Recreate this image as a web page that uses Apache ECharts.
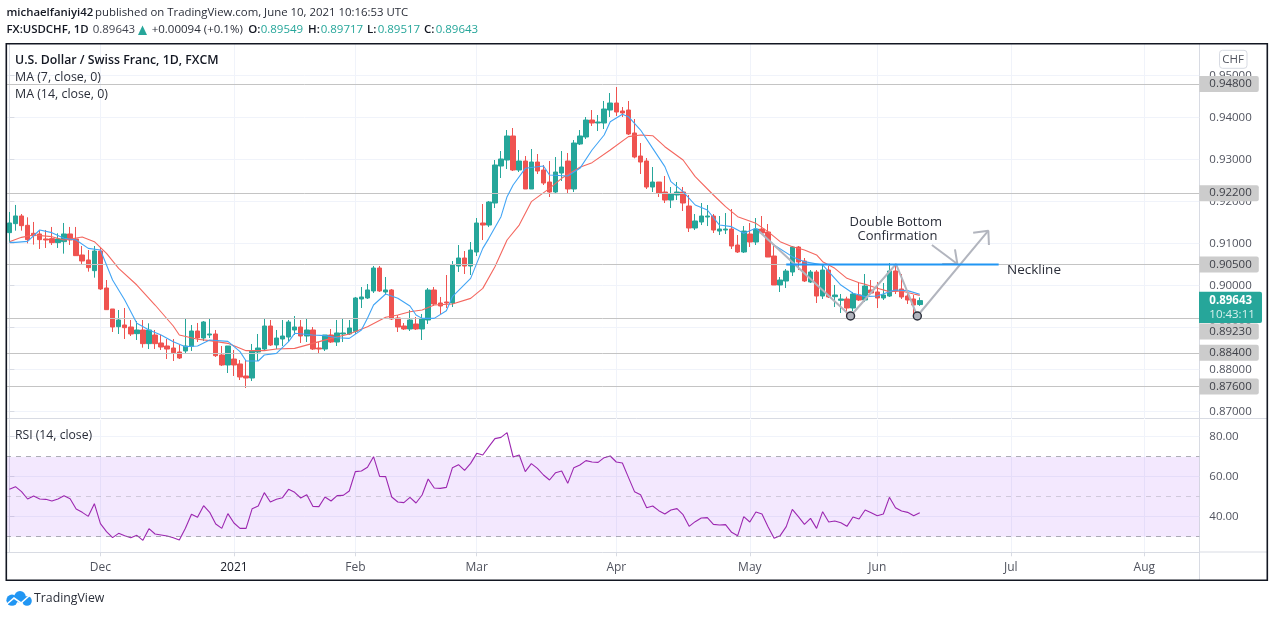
<!DOCTYPE html>
<html><head><meta charset="utf-8">
<style>html,body{margin:0;padding:0;background:#fff}#c{width:1274px;height:617px}</style>
<script src="https://cdn.jsdelivr.net/npm/echarts@6/dist/echarts.min.js"></script>
</head><body><div id="c"></div>
<script>
const opens=[.91261,.91475,.91658,.91435,.91245,.91229,.91110,.91118,.91023,.91046,.91229,.91110,.90729,.90610,.90356,.90824,.89943,.89443,.89022,.89062,.89014,.88856,.88943,.88618,.88824,.88634,.88562,.88514,.88419,.88443,.88554,.88919,.88752,.88824,.88848,.88348,.88110,.88252,.88134,.87848,.87800,.88419,.88490,.89038,.88586,.88729,.88776,.88943,.89014,.88800,.88943,.88514,.88490,.88824,.88657,.88848,.88848,.88911,.89681,.89705,.89872,.90419,.89848,.89896,.89229,
.89038,.88967,.89086,.88967,.89181,.89895,.89586,.89610,.89586,.90466,.90657,.90466,.90800,.91490,.91442,.91966,.92847,.92990,.93562,.92752,.92966,.92300,.92942,.92752,.92466,.92228,.92680,.92966,.92300,.93371,.93538,.93942,.93871,.93871,.94180,.94347,.94157,.94180,.93633,.93085,.92966,.92347,.92466,.92228,.92037,.92157,.92228,.91895,.91371,.91514,.91633,.91657,.91299,.91323,.91347,.90966,.90800,.91228,.91038,.91347,.91276,.90704,.90014,.90109,.90324,.90918,
.90586,.90086,.90324,.89752,.90371,.89736,.89649,.89681,.89466,.89776,.89657,.89895,.89848,.89705,.89752,.90348,.89919,.89752,.89681,.89549];
const closes=[.91491,.91658,.91427,.91094,.91189,.91094,.91086,.91023,.91110,.91229,.91086,.90713,.90586,.90427,.90824,.89920,.89427,.89014,.89181,.88998,.88848,.88943,.88618,.88943,.88618,.88538,.88490,.88403,.88276,.88562,.88919,.88752,.89134,.88848,.88332,.88110,.88562,.88110,.87824,.87800,.88443,.88514,.89038,.88586,.88752,.88800,.89134,.89014,.88800,.88943,.88490,.88490,.88824,.88657,.88872,.88872,.88991,.89705,.89729,.89896,.90419,.89872,.89896,.89205,.89014,
.88967,.89181,.88967,.89205,.89895,.89562,.89514,.89586,.90490,.90657,.90466,.90847,.91490,.91442,.91990,.92871,.93014,.93562,.92752,.92966,.92300,.92942,.92728,.92442,.92228,.92704,.92823,.92300,.93395,.93562,.93942,.93871,.93895,.94204,.94347,.94133,.94109,.93609,.93061,.92942,.92347,.92466,.92204,.92037,.92180,.92228,.91966,.91371,.91538,.91657,.91657,.91323,.91347,.91347,.90942,.90800,.91299,.91038,.91347,.91252,.90680,.90014,.90133,.90347,.90918,.90561,
.90110,.90324,.89752,.90371,.89729,.89776,.89681,.89466,.89800,.89657,.89990,.89824,.89705,.89776,.90348,.89871,.89729,.89657,.89538,.89643];
const lows=[.91030,.91308,.91308,.91007,.90975,.90872,.90896,.90967,.90896,.90761,.90967,.90705,.90515,.90332,.90189,.89896,.89419,.88895,.88848,.88729,.88800,.88705,.88522,.88490,.88490,.88467,.88252,.88205,.88252,.88395,.88443,.88657,.88681,.88752,.88300,.88086,.87919,.87848,.87752,.87562,.87728,.88205,.88443,.88562,.88490,.88562,.88657,.88824,.88634,.88657,.88467,.88371,.88443,.88634,.88562,.88657,.88824,.88848,.89467,.89681,.89824,.89848,.89776,.89181,.88895,
.88943,.88919,.88943,.88705,.89086,.89514,.89324,.89467,.89490,.90324,.90276,.90252,.90704,.91085,.91394,.91847,.92562,.92776,.92728,.92704,.92300,.92300,.92657,.92395,.92109,.92180,.92490,.92204,.92228,.93347,.93490,.93800,.93680,.93728,.94014,.94038,.94014,.93585,.93030,.92657,.92300,.92228,.92109,.91966,.91847,.92037,.91776,.91276,.91323,.91442,.91418,.91252,.91204,.91228,.90871,.90776,.90776,.90919,.90966,.91244,.90680,.90014,.89847,.89943,.90228,.90371,
.90086,.90062,.89586,.89681,.89705,.89490,.89348,.89276,.89395,.89633,.89609,.89800,.89466,.89657,.89729,.89800,.89681,.89562,.89276,.89517];
const highs=[.91753,.91920,.91705,.91626,.91515,.91324,.91324,.91396,.91245,.91491,.91396,.91396,.90943,.90848,.90943,.90919,.90133,.89443,.89419,.89467,.89181,.89157,.89181,.89102,.88943,.88824,.88729,.88729,.88586,.89205,.89062,.89110,.89157,.89205,.88943,.88562,.88562,.88467,.88229,.88229,.88610,.88848,.89205,.89181,.88943,.89181,.89181,.89276,.89181,.89205,.89014,.88657,.88824,.88967,.89181,.89205,.89181,.89729,.89967,.90038,.90467,.90467,.90205,.89919,.89300,
.89109,.89419,.89252,.89324,.89943,.89967,.89729,.90252,.90585,.90966,.90823,.91038,.91609,.91942,.92014,.92990,.93204,.93704,.93752,.93228,.93085,.93252,.93133,.92871,.92966,.93061,.93204,.93157,.93466,.93704,.94014,.94180,.94061,.94395,.94585,.94728,.94252,.94395,.93966,.93395,.93038,.92823,.92466,.92609,.92347,.92466,.92347,.92157,.91704,.91966,.91919,.91704,.91657,.91728,.91823,.91204,.91418,.91490,.91609,.91657,.91466,.90942,.90204,.90395,.90942,.90942,
.90657,.90371,.90371,.90514,.90466,.90014,.89800,.89736,.89848,.90086,.90276,.90133,.90086,.90062,.90538,.90514,.90276,.89871,.89776,.89717];

const ma7Bars=[0,1,3,5,7,9,11,13,15,17,19,21,23,25,27,29,31,33,36,38,39,41,42,44,46,47,50,52,54,56,58,59,60,62,64,66,67,68,70,72,73,76,78,79,81,82,83,85,88,89,92,94,96,98,99,101,102,104,106,108,109,111,113,115,117,119,121,123,124,126,129,131,134,136,137,139,141,143,145,146,148,150];
const ma7Values=[.91030,.91030,.91054,.91324,.91261,.91126,.91086,.90887,.90848,.90133,.89657,.89102,.88943,.88824,.88665,.88546,.88562,.88705,.88673,.88427,.88205,.88205,.88348,.88387,.88665,.88864,.88824,.88808,.88760,.88744,.88943,.89221,.89538,.89800,.89700,.89514,.89299,.89220,.89220,.89403,.89736,.90173,.90887,.91125,.91641,.92117,.92395,.92792,.92847,.92633,.92609,.92792,.93228,.93585,.93903,.94078,.94022,.93704,.93268,.92832,.92474,.92236,.91919,.91800,.91442,.91403,.91244,.91363,.91244,.90966,.90689,.90570,.90491,.90173,.90014,.89816,.89737,.89752,.89856,.89895,.89880,.89792];
const ma14Bars=[0,2,4,7,9,12,14,16,18,21,24,27,28,31,33,36,39,42,44,47,50,53,56,59,62,64,66,68,70,73,76,78,80,82,84,86,89,91,94,96,99,102,104,106,108,111,113,116,118,120,123,125,127,129,130,131,133,134,136,138,140,141,143,145,147,149,150];
const ma14Values=[.91046,.91149,.91204,.91165,.91086,.91157,.91046,.90768,.90411,.90014,.89538,.89038,.88824,.88721,.88689,.88625,.88451,.88451,.88490,.88506,.88625,.88744,.88848,.89022,.89245,.89300,.89379,.89419,.89537,.89562,.89696,.89934,.90450,.91085,.91442,.91998,.92316,.92554,.92816,.92927,.93228,.93546,.93585,.93569,.93307,.92990,.92593,.92157,.91879,.91641,.91482,.91284,.91046,.90927,.90887,.90848,.90729,.90570,.90411,.90173,.90070,.90030,.89935,.89856,.89871,.89800,.89768];
const rsiValues=[53.68,55.02,52.52,48.85,50.35,48.85,48.68,47.85,48.85,50.52,49.02,43.85,42.18,40.18,46.52,36.52,32.52,29.52,31.68,30.52,29.52,30.68,28.18,34.02,31.35,30.85,30.35,29.52,28.35,34.18,41.18,39.68,45.52,42.18,36.35,34.18,41.52,36.85,34.18,34.18,44.02,45.35,52.02,47.35,48.68,49.52,53.68,52.18,49.35,51.02,45.18,45.02,49.85,47.85,50.52,50.68,52.85,62.52,62.85,64.68,70.02,60.18,60.02,49.85,47.35,47.02,49.68,46.85,
50.85,58.85,54.35,54.18,54.68,64.52,66.02,63.18,66.68,71.68,70.85,75.02,79.02,79.68,82.02,69.85,70.85,62.52,66.52,64.18,60.85,58.35,62.02,62.85,56.68,64.52,65.85,68.02,67.35,67.18,69.52,70.35,67.35,66.85,59.68,52.52,51.02,44.52,45.35,43.02,41.35,43.35,44.02,41.02,35.18,37.52,39.35,39.52,36.18,35.85,36.02,32.18,30.52,40.02,37.35,42.35,41.35,35.02,29.18,30.52,35.02,43.68,40.02,36.18,39.18,34.18,42.52,37.35,37.85,37.02,35.18,39.85,38.85,43.35,42.02,40.52,41.35,49.68,44.52,42.85,42.18,40.52,42.02];

const monthBars=[15,37,57,77,100,122,143,165,187];
const monthLabels=['Dec','2021','Feb','Mar','Apr','May','Jun','Jul','Aug'];
const priceTicks=[.87,.88,.89,.90,.91,.92,.93,.94,.95];
const rsiTicks=[40,60,80];
const rsiLevels=[30,50,70];
const priceLevels=[.948,.922,.905,.8923,.884,.876];
const necklineBars=[128,163];
const necklinePrices=[.905,.905];
const patternBars=[123.6,138.6,146.1,149.6,161.3];
const patternPrices=[.91283,.89276,.90514,.89276,.91307];
const arrowHeadBars=[158.8,161.3,161.4];
const arrowHeadPrices=[.91260,.91307,.90967];
const arrow2Bars=[152,156.2];
const arrow2Prices=[.90967,.90514];
const arrow2HeadBars=[153.7,156.2,155.8];
const arrow2HeadPrices=[.90514,.90514,.90864];
const bottomBars=[138.6,149.6];
const bottomPrices=[.89276,.89276];

const FONT='"Open Sans","Noto Sans",sans-serif';
const TEAL='#26a69a',RED='#ef5350',GRID='#f0f3fa',AXIS='#d8dbe3',TXT='#50535e',GRAY='#b2b5be';
const zip=(a,b)=>a.map((v,i)=>[v,b[i]]);
const gridLeft=6;
const xMin=-0.56,xMax=196.06;
const xAxisBase=(idx)=>({type:'value',gridIndex:idx,min:xMin,max:xMax,
  axisLine:{show:idx===1,lineStyle:{color:AXIS}},
  axisTick:{show:idx===1,length:4,customValues:monthBars,lineStyle:{color:AXIS}},
  splitLine:{show:true,lineStyle:{color:GRID,width:1}},
  axisLabel:idx===1?{show:true,customValues:monthBars,margin:9,fontFamily:FONT,fontSize:12,color:TXT,
    formatter:v=>{const s=monthLabels[monthBars.indexOf(v)];return s==='2021'?'{y|2021}':s;},
    rich:{y:{color:'#131722',fontFamily:FONT,fontSize:12,fontWeight:500}}}:{show:false}});
const yBase=(idx,min,max,ticks,dec)=>({type:'value',gridIndex:idx,position:'right',min,max,
  axisLine:{show:true,lineStyle:{color:AXIS}},
  axisTick:{show:true,length:5,customValues:ticks,lineStyle:{color:AXIS}},
  splitLine:{show:true,lineStyle:{color:GRID,width:1}},
  axisLabel:{show:true,customValues:ticks,margin:10,fontFamily:FONT,fontSize:11.5,color:TXT,hideOverlap:false,formatter:v=>v.toFixed(dec)}});
const lineS=(name,x,y,color,width,z)=>({name,type:'line',xAxisIndex:0,yAxisIndex:0,data:zip(x,y),showSymbol:false,symbol:'none',silent:true,z,lineStyle:{color,width},animation:false});

const txt=(x,y,s,o={})=>({type:'text',x:x,y:y,z:50,style:Object.assign({text:s,fontFamily:FONT,fontSize:11.5,fill:'#131722',verticalAlign:'middle',align:'left'},o)});
const rule=(x1,y1,x2,y2)=>({type:'line',z:0,silent:true,shape:{x1,y1,x2,y2},style:{stroke:AXIS,lineWidth:1}});

const option={
 animation:false,backgroundColor:'#fff',
 grid:[{left:gridLeft,top:44,width:1193.3,height:375},{left:gridLeft,top:420,width:1193.3,height:132.3}],
 xAxis:[xAxisBase(0),xAxisBase(1)],
 yAxis:[yBase(0,.86824,.95752,priceTicks,5),yBase(1,22.2,88.35,rsiTicks,2)],
 series:[
  {name:'levels',type:'line',xAxisIndex:0,yAxisIndex:0,data:[],z:1,silent:true,
   markLine:{silent:true,symbol:'none',precision:5,animation:false,lineStyle:{color:'#c4c4c4',width:1,type:'solid'},
    label:{show:true,position:'end',distance:0,fontFamily:FONT,fontSize:11.5,color:'#3f4149',backgroundColor:'#cccccc',padding:[2,7,2,10],borderRadius:[0,2,2,0],formatter:p=>p.value.toFixed(5)},
    data:priceLevels.map(v=>v===.8923?{yAxis:v,label:{offset:[0,13.5]}}:{yAxis:v})}},
  {name:'USDCHF',type:'candlestick',xAxisIndex:0,yAxisIndex:0,z:3,barWidth:5,silent:true,
   encode:{x:0,y:[1,2,3,4]},
   itemStyle:{color:TEAL,color0:RED,borderColor:TEAL,borderColor0:RED,borderWidth:1},
   data:opens.map((o,i)=>[i,o,closes[i],lows[i],highs[i]])},
  lineS('MA 14',ma14Bars,ma14Values,'#f4675f',1.1,4),
  lineS('MA 7',ma7Bars,ma7Values,'#42a5f5',1.1,5),
  lineS('Pattern',patternBars,patternPrices,GRAY,2,6),
  lineS('Arrow head',arrowHeadBars,arrowHeadPrices,GRAY,2,6),
  lineS('Arrow 2',arrow2Bars,arrow2Prices,GRAY,2,6),
  lineS('Arrow 2 head',arrow2HeadBars,arrow2HeadPrices,GRAY,2,6),
  lineS('Neckline',necklineBars,necklinePrices,'#2196f3',2,7),
  {name:'Bottoms',type:'scatter',xAxisIndex:0,yAxisIndex:0,z:8,silent:true,symbolSize:8,data:zip(bottomBars,bottomPrices),
   itemStyle:{color:GRAY,borderColor:'#2a2e39',borderWidth:1.4,opacity:1}},
  {name:'RSI',type:'line',xAxisIndex:1,yAxisIndex:1,z:4,showSymbol:false,symbol:'none',silent:true,
   lineStyle:{color:'#9c27b0',width:1.1},data:rsiValues.map((v,i)=>[i,v]),
   markArea:{silent:true,animation:false,itemStyle:{color:'rgba(126,0,240,0.09)'},data:[[{yAxis:rsiLevels[0]},{yAxis:rsiLevels[2]}]]},
   markLine:{silent:true,symbol:'none',animation:false,label:{show:false},lineStyle:{color:'rgba(120,123,134,0.6)',type:[5,5],width:1},
    data:rsiLevels.map(v=>v===50?{yAxis:v,lineStyle:{color:'rgba(120,123,134,0.28)'}}:{yAxis:v})}}
 ],
 graphic:[
  rule(6.5,418.5,1267,418.5),
  rule(1199.5,552,1267,552),
  rule(1199.5,44,1199.5,580),
  {type:'rect',z:40,silent:true,shape:{x:6.3,y:43.8,width:1261,height:536.5},style:{fill:'none',stroke:'#131722',lineWidth:1.6}},
  txt(6.5,13,'michaelfaniyi42',{fontWeight:600,fontSize:11.4}),
  txt(95,13,'published on TradingView.com, June 10, 2021 10:16:53 UTC',{fill:'#2a2e39',fontSize:11.4}),
  txt(6.5,30,'FX:USDCHF, 1D',{fontWeight:600,fontSize:11.4}),
  txt(92.7,30,'0.89643',{fill:'#434651'}),
  {type:'polygon',z:50,shape:{points:[[138,35],[147,35],[142.5,25.5]]},style:{fill:TEAL}},
  txt(151.7,30,'+0.00094 (+0.1%)',{fill:'#2a2e39'}),
  txt(248.3,30,'O:',{fontWeight:600}),txt(260.7,30,'0.89549',{fill:TEAL}),
  txt(308,30,'H:',{fontWeight:600}),txt(320.7,30,'0.89717',{fill:TEAL}),
  txt(367,30,'L:',{fontWeight:600}),txt(377.7,30,'0.89517',{fill:TEAL}),
  txt(424,30,'C:',{fontWeight:600}),txt(435.7,30,'0.89643',{fill:TEAL}),
  txt(15,60.5,'U.S. Dollar / Swiss Franc, 1D, FXCM',{fontWeight:600,fontSize:12.3}),
  txt(15,77.5,'MA (7, close, 0)',{fill:'#2a2e39',fontSize:12.4}),
  txt(15,94.5,'MA (14, close, 0)',{fill:'#2a2e39',fontSize:12.4}),
  txt(15,435.5,'RSI (14, close)',{fill:'#2a2e39',fontSize:12.2}),
  txt(849.5,222.5,'Double Bottom',{fontSize:13,fill:'#2a2e39'}),
  txt(857.5,236.7,'Confirmation',{fontSize:13,fill:'#2a2e39'}),
  txt(1007,269.7,'Neckline',{fontSize:13.5,fill:'#2a2e39'}),
  {type:'rect',z:45,shape:{x:1219.5,y:50.3,width:27.5,height:18,r:3},style:{fill:'#fff',stroke:'#d8dbe3',lineWidth:1}},
  txt(1222.3,59.5,'CHF',{fontSize:11.5,fill:'#50535e'}),
  {type:'rect',z:45,shape:{x:1199,y:291.7,width:63,height:31.3,r:[0,2,2,0]},style:{fill:TEAL}},
  txt(1209.3,300.5,'0.89643',{fill:'#fff',fontWeight:700,fontSize:11.5}),
  txt(1209.3,314.5,'10:43:11',{fill:'#d8f1ee',fontSize:11.5}),
  {type:'circle',z:50,shape:{cx:12,cy:600.2,r:5.6},style:{fill:'#2196f3'}},
  {type:'circle',z:50,shape:{cx:20,cy:596.8,r:5.8},style:{fill:'#2196f3'}},
  {type:'circle',z:50,shape:{cx:27,cy:601,r:4.8},style:{fill:'#2196f3'}},
  {type:'polyline',z:51,shape:{points:[[7,604],[14,598],[21,603],[29,596]]},style:{stroke:'#fff',fill:'none',lineWidth:1.6}},
  txt(34,598.5,'TradingView',{fontSize:12.3,fill:'#2a2e39'})
 ]
};
const chart=echarts.init(document.getElementById('c'),null,{renderer:'canvas',width:1274,height:617});
chart.setOption(option);
</script></body></html>
